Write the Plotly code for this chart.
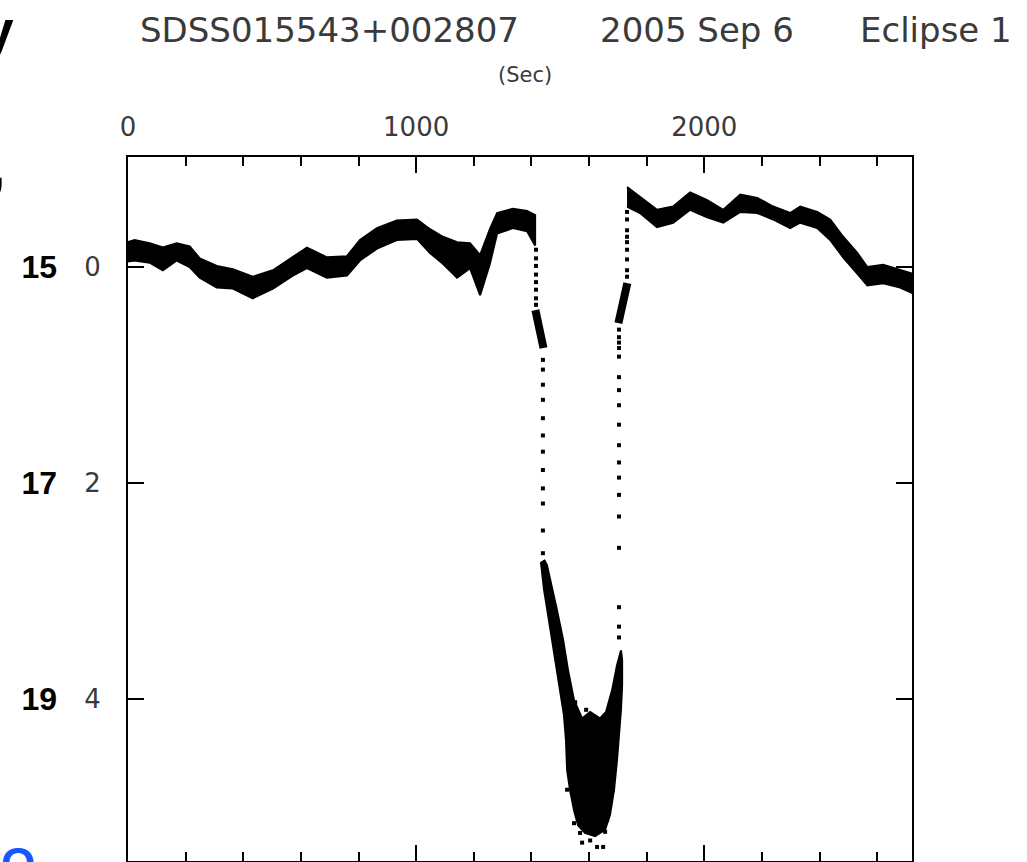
import plotly.graph_objects as go

# ---------------- data (time in s, relative magnitude) ----------------
# out-of-eclipse band of points before the eclipse: top / bottom envelope
pre_t   = [0, 23, 75, 121, 169, 214, 249, 308, 364, 433, 503, 572, 621, 690, 760, 805, 864, 933, 1003, 1048,
           1093, 1142, 1187, 1222, 1256, 1281, 1336, 1385, 1413]
pre_top = [-0.23, -0.25, -0.22, -0.18, -0.22, -0.19, -0.08, -0.01, 0.02, 0.09, 0.03, -0.09, -0.18, -0.09, -0.10,
           -0.25, -0.36, -0.43, -0.44, -0.35, -0.28, -0.23, -0.22, -0.11, -0.35, -0.50, -0.54, -0.52, -0.48]
pre_bot = [-0.05, -0.06, -0.04, 0.03, -0.06, 0.00, 0.10, 0.19, 0.20, 0.29, 0.20, 0.08, 0.01, 0.10, 0.08,
           -0.06, -0.17, -0.25, -0.26, -0.13, -0.03, 0.10, 0.01, 0.26, -0.03, -0.31, -0.36, -0.33, -0.20]

# out-of-eclipse band after the eclipse
post_t   = [1732, 1777, 1836, 1892, 1951, 2010, 2066, 2125, 2184, 2239, 2298, 2333, 2392, 2437, 2482, 2531,
            2566, 2621, 2680, 2721]
post_top = [-0.74, -0.65, -0.53, -0.56, -0.69, -0.62, -0.53, -0.67, -0.64, -0.56, -0.50, -0.56, -0.51, -0.44,
            -0.28, -0.13, 0.00, -0.02, 0.03, 0.06]
post_bot = [-0.56, -0.50, -0.37, -0.41, -0.53, -0.46, -0.41, -0.51, -0.50, -0.44, -0.36, -0.41, -0.36, -0.25,
            -0.09, 0.06, 0.17, 0.15, 0.19, 0.24]

# outline of the dense V-shaped swarm at eclipse bottom
ecl_t = [1433, 1444, 1458, 1468, 1482, 1499, 1513, 1520, 1524, 1534, 1548, 1562, 1586, 1621, 1656, 1673,
         1687, 1697, 1704, 1711, 1715, 1715, 1711, 1697, 1680, 1659, 1638, 1604, 1576, 1548, 1527, 1510,
         1489, 1468, 1454, 1444]
ecl_m = [2.73, 2.99, 3.22, 3.39, 3.64, 3.92, 4.15, 4.38, 4.66, 4.84, 5.03, 5.17, 5.24, 5.27, 5.21, 5.07,
         4.84, 4.57, 4.33, 4.10, 3.87, 3.64, 3.55, 3.69, 3.92, 4.12, 4.18, 4.12, 4.18, 4.01, 3.73, 3.45,
         3.18, 2.94, 2.76, 2.71]

# scattered single points around the eclipse bottom
low_t = [1548, 1569, 1576, 1604, 1628, 1649, 1656, 1593, 1558, 1524, 1663, 1569, 1621, 1579, 1683, 1590, 1614, 1552]
low_m = [5.15, 5.24, 5.33, 5.31, 5.37, 5.37, 5.23, 5.06, 5.03, 4.84, 5.12, 4.96, 5.19, 4.94, 4.84, 4.10, 4.18, 4.03]

# sparse points on the ingress
ing_t = [1416, 1416, 1416, 1416, 1416, 1416, 1416, 1416,
         1440, 1440, 1440, 1440, 1440, 1440, 1440, 1440, 1440, 1440, 1440, 1440]
ing_m = [-0.16, -0.08, -0.01, 0.07, 0.14, 0.21, 0.29, 0.35,
         0.86, 0.95, 1.09, 1.23, 1.40, 1.56, 1.71, 1.88, 2.05, 2.19, 2.44, 2.65]

# sparse points on the egress
egr_t = [1732, 1732, 1732, 1732, 1732, 1732, 1732, 1732, 1732,
         1704, 1704, 1704, 1704, 1704, 1704, 1704, 1704, 1704, 1704, 1704, 1704, 1704, 1704, 1704, 1704, 1704, 1704]
egr_m = [-0.51, -0.44, -0.34, -0.28, -0.23, -0.16, -0.07, 0.03, 0.09,
         0.58, 0.65, 0.70, 0.75, 0.83, 1.02, 1.14, 1.28, 1.46, 1.65, 1.81, 1.95, 2.11, 2.31, 2.60, 3.15, 3.33, 3.43]

# short dense tracks on ingress / egress
ingtrk_t = [1414, 1420, 1428, 1436, 1442]
ingtrk_m = [0.40, 0.50, 0.60, 0.70, 0.75]
egrtrk_t = [1702, 1710, 1718, 1726, 1733]
egrtrk_m = [0.52, 0.42, 0.33, 0.24, 0.15]

x_ticks = [0, 1000, 2000]
y_ticks = [0, 2, 4]
mag_ticks = [15, 17, 19]
mag_offset = 15

title_parts = ["SDSS015543+002807", "2005 Sep 6", "Eclipse 1"]
x_unit = "(Sec)"

# ---------------- layout geometry ----------------
W, H = 1027, 862
L, R, T, B = 128.3, 911.7, 157, 861
X_RANGE = [0, 2721]
Y_RANGE = [5.5, -1.0185]


def px(x):
    return (x - L) / (R - L)


def py(y):
    return (B - y) / (B - T)


fig = go.Figure()

ink = "black"
band_style = dict(mode="lines", fill="toself", fillcolor=ink, line=dict(color=ink, width=2),
                  hoverinfo="skip", showlegend=False)
fig.add_trace(go.Scatter(x=pre_t + pre_t[::-1], y=pre_top + pre_bot[::-1], **band_style))
fig.add_trace(go.Scatter(x=post_t + post_t[::-1], y=post_top + post_bot[::-1], **band_style))
fig.add_trace(go.Scatter(x=ecl_t, y=ecl_m, **band_style))

for tt, mm in [(ingtrk_t, ingtrk_m), (egrtrk_t, egrtrk_m)]:
    fig.add_trace(go.Scatter(x=tt, y=mm, mode="lines", line=dict(color=ink, width=8),
                             hoverinfo="skip", showlegend=False))

dot = dict(mode="markers", marker=dict(symbol="square", size=4, color=ink), hoverinfo="skip", showlegend=False)
fig.add_trace(go.Scatter(x=ing_t, y=ing_m, **dot))
fig.add_trace(go.Scatter(x=egr_t, y=egr_m, **dot))
fig.add_trace(go.Scatter(x=low_t, y=low_m, **dot))

# invisible trace on the magnitude axis so that it is drawn
fig.add_trace(go.Scatter(x=[None], y=[None], yaxis="y2", showlegend=False, hoverinfo="skip"))

tick_font = dict(family="DejaVu Sans", size=26, color="#3a3a3a")

fig.update_layout(
    width=W, height=H,
    margin=dict(l=L, r=W - R, t=T, b=H - B, autoexpand=False),
    paper_bgcolor="white", plot_bgcolor="white",
    showlegend=False,
    xaxis=dict(range=X_RANGE, side="top", showgrid=False, zeroline=False,
               showline=True, linecolor="black", linewidth=2, mirror="ticks",
               ticks="inside", ticklen=16, tickwidth=2, tickcolor="black",
               tickvals=x_ticks, ticktext=[str(v) for v in x_ticks], tickfont=tick_font,
               ticklabelstandoff=9,
               minor=dict(ticks="inside", dtick=200, tick0=0, ticklen=9, tickwidth=1.5, tickcolor="black",
                          showgrid=False)),
    yaxis=dict(range=Y_RANGE, showgrid=False, zeroline=False,
               showline=True, linecolor="black", linewidth=2, mirror="ticks",
               ticks="inside", ticklen=16, tickwidth=2, tickcolor="black",
               tickvals=y_ticks, ticktext=[str(v) for v in y_ticks], tickfont=tick_font,
               ticklabelstandoff=20),
    yaxis2=dict(range=[Y_RANGE[0] + mag_offset, Y_RANGE[1] + mag_offset], overlaying="y", anchor="free",
                position=0, side="left", showgrid=False, zeroline=False, showline=False, ticks="",
                tickvals=mag_ticks, ticktext=[str(v) for v in mag_ticks],
                tickfont=dict(family="Liberation Sans", size=32, color="black", weight="bold"),
                ticklabelstandoff=71, automargin=False),
)

title_font = dict(family="DejaVu Sans", size=34, color="#3a3a3a")
annots = [
    dict(text=title_parts[0], x=px(330), y=py(30), font=title_font),
    dict(text=title_parts[1], x=px(697), y=py(30), font=title_font),
    dict(text=title_parts[2], x=px(936), y=py(30), font=title_font),
    dict(text=x_unit, x=px(525), y=py(75), font=dict(family="DejaVu Sans", size=21, color="#3a3a3a")),
    # fragments of surrounding slide text cut by the image border (cut in the reference too)
    dict(text="<b>y</b>", x=px(16), y=py(30), xanchor="right",
         font=dict(family="Liberation Sans", size=55, color="black")),
    dict(text="<b>,</b>", x=px(7), y=py(167), xanchor="right",
         font=dict(family="Liberation Sans", size=55, color="black")),
    dict(text="<b>O</b>", x=px(18), y=py(864), xanchor="center",
         font=dict(family="Liberation Sans", size=44, color="#1657ff")),
]
for a in annots:
    a.setdefault("xanchor", "center")
    a.setdefault("yanchor", "middle")
    fig.add_annotation(xref="paper", yref="paper", showarrow=False, **a)

fig.write_html("out.html", config={"displayModeBar": False},
               post_script="document.body.style.margin='0';")
